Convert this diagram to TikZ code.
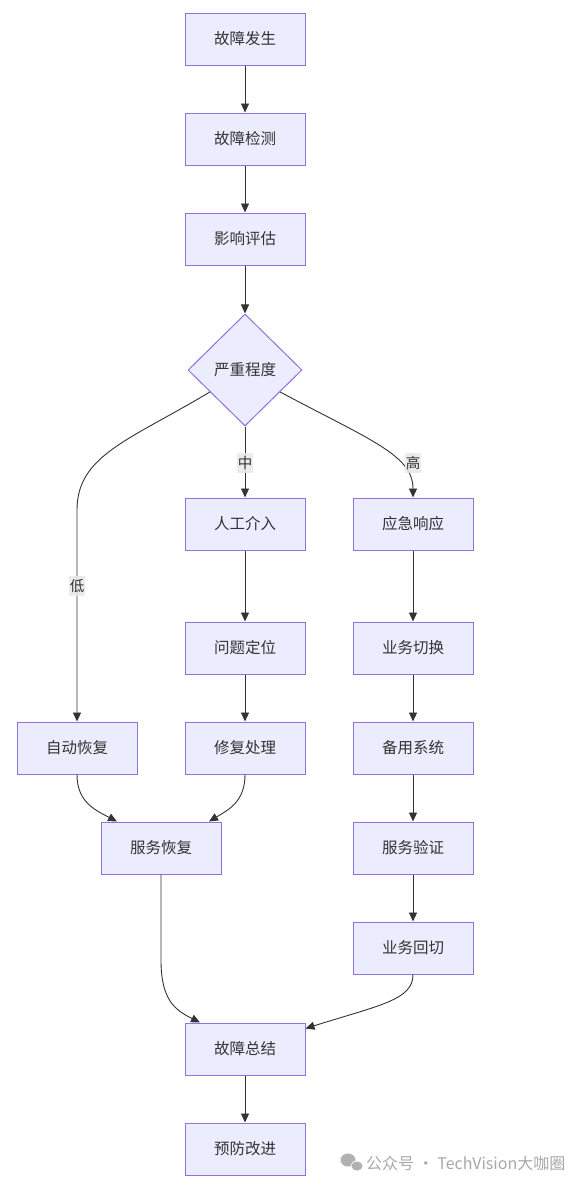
\documentclass[tikz,border=0pt]{standalone}
\usepackage{fontspec}
\setmainfont{Noto Sans CJK SC}
\usetikzlibrary{shapes.geometric,arrows.meta}
\definecolor{nodefill}{HTML}{ECECFF}
\definecolor{nodeline}{HTML}{9370DB}
\definecolor{edgecol}{HTML}{333333}
\definecolor{lblbg}{HTML}{E8E8E8}
\definecolor{wmark}{HTML}{A8A8A8}
\begin{document}
\begin{tikzpicture}[x=1pt,y=-1pt,
  box/.style={draw=nodeline,fill=nodefill,line width=1pt,minimum width=120pt,minimum height=52pt,inner sep=0pt,text=edgecol,font=\fontsize{15.5}{18}\selectfont},
  decide/.style={shape=diamond,draw=nodeline,fill=nodefill,line width=1pt,minimum width=114pt,minimum height=112pt,inner sep=0pt,text=edgecol,font=\fontsize{15.5}{18}\selectfont},
  edge/.style={draw=edgecol,line width=0.9pt,-{Triangle[length=9pt,width=8pt]}},
  elabel/.style={fill=lblbg,fill opacity=0.85,text opacity=1,text=edgecol,inner xsep=1pt,inner ysep=3pt,font=\fontsize{14.5}{16}\selectfont}
]
\useasboundingbox (0,0) rectangle (586,1186);
\fill[white] (0,0) rectangle (586,1186);

\node[box] (occur) at (245,39) {故障发生};
\node[box] (detect) at (245,139) {故障检测};
\node[box] (assess) at (245,239) {影响评估};
\node[decide] (sev) at (245,370) {严重程度};
\node[box] (manual) at (245,524) {人工介入};
\node[box] (emerg) at (413,524) {应急响应};
\node[box] (locate) at (245,648) {问题定位};
\node[box] (switch) at (413,648) {业务切换};
\node[box] (auto) at (77,748) {自动恢复};
\node[box] (repair) at (245,748) {修复处理};
\node[box] (backup) at (413,748) {备用系统};
\node[box] (svcrec) at (161,848) {服务恢复};
\node[box] (verify) at (413,848) {服务验证};
\node[box] (back) at (413,948) {业务回切};
\node[box] (summary) at (245,1049) {故障总结};
\node[box] (improve) at (245,1149) {预防改进};

\draw[edge] (occur) -- (detect);
\draw[edge] (detect) -- (assess);
\draw[edge] (assess) -- (sev);
\draw[edge] (sev.south) -- (manual.north);
\draw[edge] (sev.212) .. controls (130,440) and (77,455) .. (77,510) -- (auto.north);
\draw[edge] (sev.328) .. controls (370,440) and (413,455) .. (emerg.north);
\draw[edge] (manual) -- (locate);
\draw[edge] (locate) -- (repair);
\draw[edge] (emerg) -- (switch);
\draw[edge] (switch) -- (backup);
\draw[edge] (backup) -- (verify);
\draw[edge] (verify) -- (back);
\draw[edge] (auto.south) .. controls (77,802) and (95,810) .. ([xshift=-44pt]svcrec.north);
\draw[edge] (repair.south) .. controls (245,802) and (228,810) .. ([xshift=48pt]svcrec.north);
\draw[edge] (svcrec.south) -- (161,960) .. controls (161,1000) and (175,1010) .. ([xshift=-45pt]summary.north);
\draw[edge] (back.south) .. controls (413,1000) and (380,1005) .. ([yshift=-6pt]summary.north east);
\draw[edge] (summary) -- (improve);

\node[elabel] (lzhong) at (245,463) {中};
\node[elabel] (lgao) at (413,463) {高};
\node[elabel] (ldi) at (77,586) {低};

% watermark
\fill[wmark!90] (348,1160) ellipse (7.5pt and 6.5pt);
\draw[white,line width=0.8pt] (357,1166) ellipse (6pt and 5pt);
\fill[wmark!90] (357,1166) ellipse (5.6pt and 4.6pt);
\node[anchor=west,text=wmark,inner sep=0pt,font=\fontsize{16}{18}\selectfont] (wm) at (366,1163) {公众号 · TechVision大咖圈};
\end{tikzpicture}
\end{document}
